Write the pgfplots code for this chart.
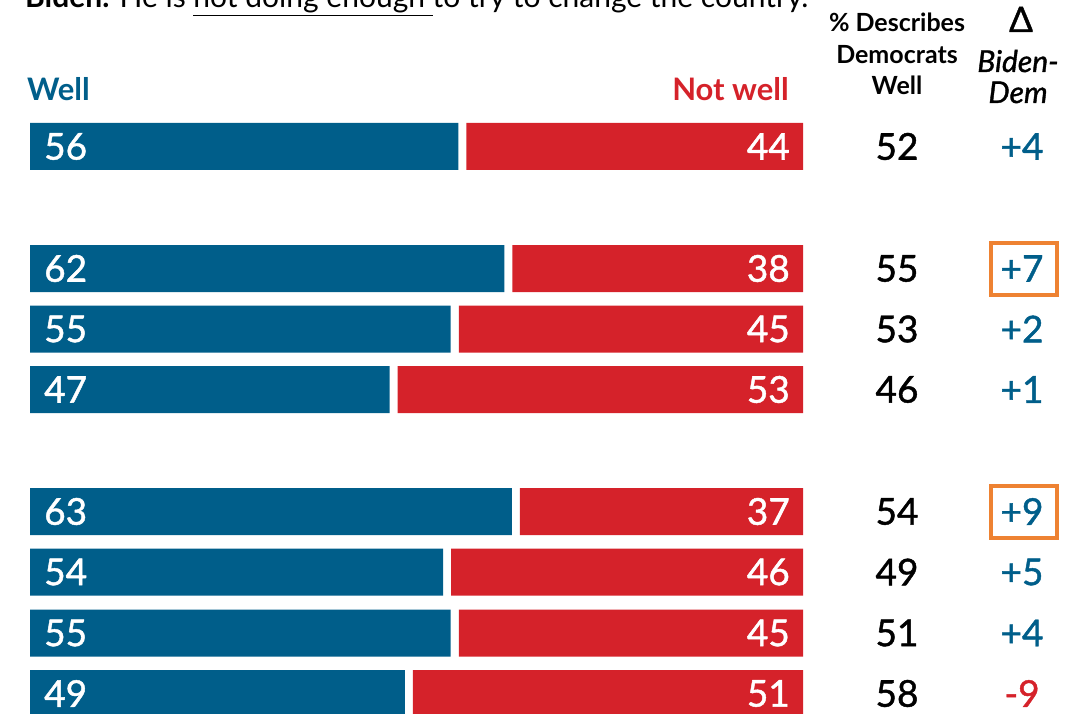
\documentclass[border=0pt]{standalone}
\usepackage{pgfplots}
\pgfplotsset{compat=1.18}
\usepackage{pgfplotstable}
\usepackage{fontspec}
\setmainfont{Lato}
\newfontfamily\med[FakeBold=1.2]{Lato}
\newfontfamily\meditalic[FakeBold=1.2]{Lato Italic}
\definecolor{pewblue}{RGB}{0,94,138}
\definecolor{pewred}{RGB}{213,34,42}
\definecolor{boxorange}{RGB}{238,130,50}

\pgfplotstableread{
y well notwell dem
146.5 56 44 52
268.5 62 38 55
329 55 45 53
389.5 47 53 46
511.5 63 37 54
572 54 46 49
633 55 45 51
693.5 49 51 58
}\rows
\pgfplotstableread{
y delta
146.5 +4
268.5 +7
329 +2
389.5 +1
511.5 +9
572 +5
633 +4
}\deltapos
\pgfplotstableread{
y delta
693.5 -9
}\deltaneg

\pgfplotsset{base/.style={scale only axis, width=1084pt, height=714pt,
  ymin=0, ymax=714, y dir=reverse, hide axis, clip=false,
  at={(0,0)}, anchor=south west},
  lbl/.style={draw=none, mark=none, point meta=explicit symbolic,
  nodes near coords={\pgfplotspointmeta},
  nodes near coords style={inner sep=0pt, font=\med\fontsize{37}{40}\selectfont}}}

\begin{document}
\begin{tikzpicture}
% Well bars (x in percent, 0 at px 30, 7.65 px per point)
\begin{axis}[base, xmin=-3.9216, xmax=137.78]
\addplot[xbar, bar width=47, fill=pewblue, draw=none] table[x=well, y=y] {\rows};
\addplot[lbl, nodes near coords style={anchor=west, xshift=14pt, text=white}] table[x expr=0, y=y, meta=well] {\rows};
\end{axis}
% Not well bars (reversed, 0 at px 803)
\begin{axis}[base, x dir=reverse, xmin=-36.73, xmax=104.97]
\addplot[xbar, bar width=47, fill=pewred, draw=none] table[x=notwell, y=y] {\rows};
\addplot[lbl, nodes near coords style={anchor=east, xshift=-13pt, text=white}] table[x expr=0, y=y, meta=notwell] {\rows};
\end{axis}
% Text columns in pixel coordinates
\begin{axis}[base, xmin=0, xmax=1084]
\addplot[lbl, nodes near coords style={anchor=center, text=black}] table[x expr=897, y=y, meta=dem] {\rows};
\addplot[lbl, nodes near coords style={anchor=center, text=pewblue}] table[x expr=1022, y=y, meta=delta] {\deltapos};
\addplot[lbl, nodes near coords style={anchor=center, text=pewred}] table[x expr=1022, y=y, meta=delta] {\deltaneg};
\draw[boxorange, line width=4pt] (axis cs:991,242.5) rectangle (axis cs:1057,294.5);
\draw[boxorange, line width=4pt] (axis cs:991,485.5) rectangle (axis cs:1057,537.5);
\node[anchor=base west, inner sep=0pt, font=\fontsize{30}{33}\selectfont] at (axis cs:25,8)
  {\textbf{Biden.} He is \underline{not doing enough\ }to try to change the country.};
\node[anchor=base west, inner sep=0pt, text=pewblue, font=\bfseries\fontsize{31}{34}\selectfont] at (axis cs:27,101) {Well};
\node[anchor=base east, inner sep=0pt, text=pewred, font=\bfseries\fontsize{31}{34}\selectfont] at (axis cs:789,101) {Not well};
\node[anchor=base, inner sep=0pt, font=\bfseries\fontsize{25}{28}\selectfont] at (axis cs:897,32) {\% Describes};
\node[anchor=base, inner sep=0pt, font=\bfseries\fontsize{25}{28}\selectfont] at (axis cs:897,63.5) {Democrats};
\node[anchor=base, inner sep=0pt, font=\bfseries\fontsize{25}{28}\selectfont] at (axis cs:897,95) {Well};
\node[anchor=base, inner sep=0pt, font=\med\fontsize{35}{38}\selectfont] at (axis cs:1021,32) {Δ};
\node[anchor=base, inner sep=0pt, font=\meditalic\fontsize{30}{33}\selectfont] at (axis cs:1018,72) {Biden-};
\node[anchor=base, inner sep=0pt, font=\meditalic\fontsize{30}{33}\selectfont] at (axis cs:1018,103) {Dem};
\end{axis}
\pgfresetboundingbox
\useasboundingbox (current axis.south west) rectangle (current axis.north east);
\end{tikzpicture}
\end{document}
